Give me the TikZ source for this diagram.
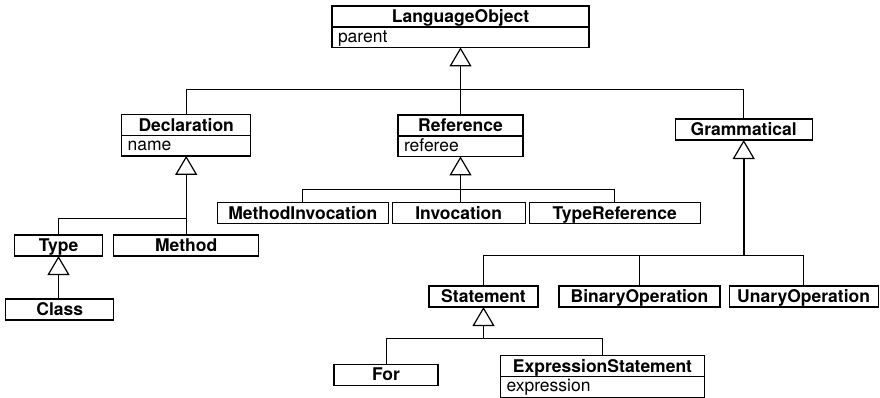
\documentclass[tikz,border=0pt]{standalone}
\usepackage{fontspec}
\setmainfont{TeX Gyre Heros}
\usetikzlibrary{arrows.meta,positioning}

\begin{document}
\begin{tikzpicture}[x=1pt, y=-1pt,
    classnode/.style={draw, line width=1.2pt, outer sep=0pt, inner sep=0pt, anchor=north, minimum width=#1, minimum height=21pt, text height=16.5pt, text depth=4.5pt, font=\fontsize{17.5}{20}\selectfont\bfseries},
    attrnode/.style={draw, line width=1.2pt, outer sep=0pt, inner ysep=0pt, inner xsep=6pt, anchor=north, minimum width=#1, align=left, minimum height=20.4pt, text height=15pt, text depth=5.4pt, font=\fontsize{17.5}{20}\selectfont},
    inherit/.style={{Triangle[open, length=19pt, width=22pt, line width=1.2pt]}-, line width=1pt},
    link/.style={line width=1pt}
  ]
    \useasboundingbox (0,0) rectangle (880,397);

    \node[classnode=257pt] (lo) at (460.5,6) {LanguageObject};
    \node[attrnode=257pt, text width=245pt, below=0pt of lo] (lo-attr) {parent};

    \node[classnode=129pt] (decl) at (186.2,114.5) {Declaration};
    \node[attrnode=129pt, text width=117pt, below=0pt of decl] (decl-attr) {name};
    \node[classnode=125pt] (ref) at (460.5,115) {Reference};
    \node[attrnode=125pt, text width=113pt, below=0pt of ref] (ref-attr) {referee};
    \node[classnode=137pt, minimum height=20.3pt] (gram) at (743.7,119) {Grammatical};

    \node[classnode=171pt] (minv) at (302.8,202.7) {MethodInvocation};
    \node[classnode=133pt] (inv) at (458.7,202.7) {Invocation};
    \node[classnode=171pt] (tref) at (614.7,202.7) {TypeReference};

    \node[classnode=88pt] (type) at (58.5,235) {Type};
    \node[classnode=145pt] (method) at (186.2,235) {Method};
    \node[classnode=108pt] (class) at (59.8,299) {Class};

    \node[classnode=109pt] (stmt) at (483.5,286) {Statement};
    \node[classnode=161pt] (binop) at (639.5,286) {BinaryOperation};
    \node[classnode=149pt] (unop) at (803.6,286) {UnaryOperation};

    \node[classnode=104pt] (for) at (386,364.3) {For};
    \node[classnode=204pt, minimum height=20.6pt] (exprstmt) at (602.5,355.7) {ExpressionStatement};
    \node[attrnode=204pt, text width=192pt, below=0pt of exprstmt] (exprstmt-attr) {expression};

    \coordinate (lo-j) at (460.5,89.3);
    \draw[inherit] (lo-attr.south) -- (lo-j);
    \draw[link] (decl.north) |- (lo-j) -| (gram.north);
    \draw[link] (ref.north) -- (lo-j);

    \coordinate (decl-j) at (186.2,218.3);
    \draw[inherit] (decl-attr.south) -- (decl-j);
    \draw[link] (type.north) |- (decl-j) -- (method.north);
    \draw[inherit] (type.south) -- (type.south |- class.north);

    \coordinate (ref-j) at (460.5,189.3);
    \draw[inherit] (ref-attr.south) -- (ref-j);
    \draw[link] (minv.north) |- (ref-j) -| (tref.north);
    \draw[link] (ref-j) -- (ref-j |- inv.north);

    \coordinate (gram-j) at (743.7,255.5);
    \draw[inherit, line width=2pt] (gram.south) -- (gram-j);
    \draw[link] (stmt.north) |- (gram-j) -| (unop.north);
    \draw[link] (binop.north) -- (binop.north |- gram-j);

    \coordinate (stmt-j) at (483.5,338.5);
    \draw[inherit] (stmt.south) -- (stmt-j);
    \draw[link] (for.north) |- (stmt-j) -| (exprstmt.north);
\end{tikzpicture}
\end{document}
